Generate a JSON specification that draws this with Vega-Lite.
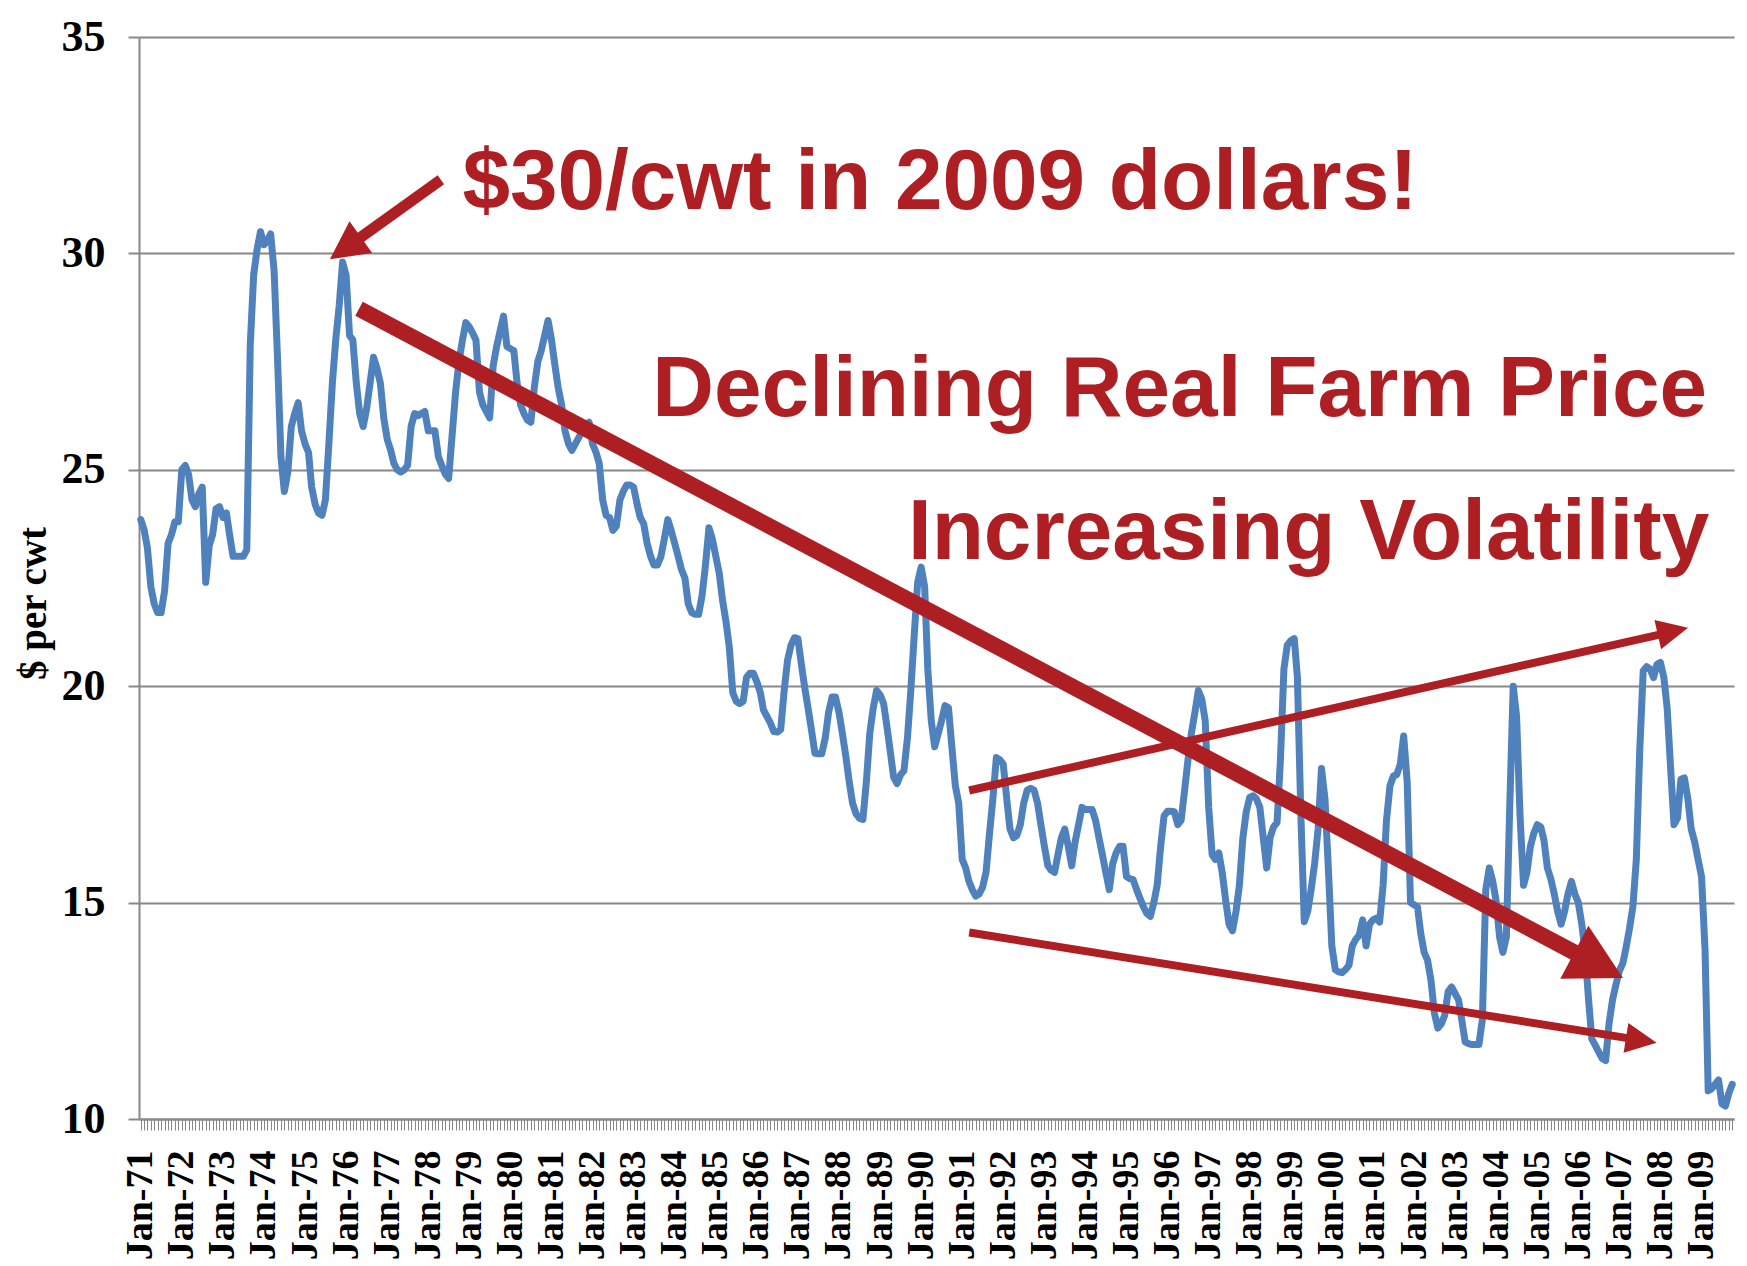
{
  "$schema": "https://vega.github.io/schema/vega-lite/v6.json",
  "width": 1595,
  "height": 1082,
  "autosize": {"type": "none"},
  "padding": {"left": 139, "top": 37, "right": 13, "bottom": 147},
  "background": "white",
  "config": {"view": {"stroke": null}},
  "datasets": {
    "milk": [
      {"date":"1971-01-01","price":23.85},{"date":"1971-02-01","price":23.6},{"date":"1971-03-01","price":23.2},{"date":"1971-04-01","price":22.3},{"date":"1971-05-01","price":21.9},{"date":"1971-06-01","price":21.7},{"date":"1971-07-01","price":21.7},{"date":"1971-08-01","price":22.2},{"date":"1971-09-01","price":23.3},{"date":"1971-10-01","price":23.5},{"date":"1971-11-01","price":23.8},{"date":"1971-12-01","price":23.8},
      {"date":"1972-01-01","price":25.0},{"date":"1972-02-01","price":25.1},{"date":"1972-03-01","price":24.9},{"date":"1972-04-01","price":24.3},{"date":"1972-05-01","price":24.15},{"date":"1972-06-01","price":24.45},{"date":"1972-07-01","price":24.6},{"date":"1972-08-01","price":22.4},{"date":"1972-09-01","price":23.25},{"date":"1972-10-01","price":23.5},{"date":"1972-11-01","price":24.1},{"date":"1972-12-01","price":24.15},
      {"date":"1973-01-01","price":23.9},{"date":"1973-02-01","price":24.0},{"date":"1973-03-01","price":23.5},{"date":"1973-04-01","price":23.0},{"date":"1973-05-01","price":23.0},{"date":"1973-06-01","price":23.0},{"date":"1973-07-01","price":23.0},{"date":"1973-08-01","price":23.15},{"date":"1973-09-01","price":27.9},{"date":"1973-10-01","price":29.5},{"date":"1973-11-01","price":30.1},{"date":"1973-12-01","price":30.5},
      {"date":"1974-01-01","price":30.2},{"date":"1974-02-01","price":30.3},{"date":"1974-03-01","price":30.45},{"date":"1974-04-01","price":29.6},{"date":"1974-05-01","price":27.6},{"date":"1974-06-01","price":25.3},{"date":"1974-07-01","price":24.5},{"date":"1974-08-01","price":24.95},{"date":"1974-09-01","price":26.0},{"date":"1974-10-01","price":26.3},{"date":"1974-11-01","price":26.55},{"date":"1974-12-01","price":25.9},
      {"date":"1975-01-01","price":25.6},{"date":"1975-02-01","price":25.4},{"date":"1975-03-01","price":24.6},{"date":"1975-04-01","price":24.2},{"date":"1975-05-01","price":24.0},{"date":"1975-06-01","price":23.95},{"date":"1975-07-01","price":24.3},{"date":"1975-08-01","price":25.6},{"date":"1975-09-01","price":27.0},{"date":"1975-10-01","price":28.0},{"date":"1975-11-01","price":28.8},{"date":"1975-12-01","price":29.8},
      {"date":"1976-01-01","price":29.5},{"date":"1976-02-01","price":28.1},{"date":"1976-03-01","price":28.0},{"date":"1976-04-01","price":27.0},{"date":"1976-05-01","price":26.3},{"date":"1976-06-01","price":26.0},{"date":"1976-07-01","price":26.4},{"date":"1976-08-01","price":27.0},{"date":"1976-09-01","price":27.6},{"date":"1976-10-01","price":27.35},{"date":"1976-11-01","price":27.0},{"date":"1976-12-01","price":26.2},
      {"date":"1977-01-01","price":25.7},{"date":"1977-02-01","price":25.45},{"date":"1977-03-01","price":25.15},{"date":"1977-04-01","price":25.0},{"date":"1977-05-01","price":24.95},{"date":"1977-06-01","price":25.0},{"date":"1977-07-01","price":25.1},{"date":"1977-08-01","price":26.0},{"date":"1977-09-01","price":26.3},{"date":"1977-10-01","price":26.25},{"date":"1977-11-01","price":26.3},{"date":"1977-12-01","price":26.35},
      {"date":"1978-01-01","price":25.9},{"date":"1978-02-01","price":25.9},{"date":"1978-03-01","price":25.9},{"date":"1978-04-01","price":25.3},{"date":"1978-05-01","price":25.1},{"date":"1978-06-01","price":24.9},{"date":"1978-07-01","price":24.8},{"date":"1978-08-01","price":25.8},{"date":"1978-09-01","price":26.8},{"date":"1978-10-01","price":27.5},{"date":"1978-11-01","price":28.0},{"date":"1978-12-01","price":28.4},
      {"date":"1979-01-01","price":28.3},{"date":"1979-02-01","price":28.15},{"date":"1979-03-01","price":28.0},{"date":"1979-04-01","price":26.8},{"date":"1979-05-01","price":26.5},{"date":"1979-06-01","price":26.35},{"date":"1979-07-01","price":26.2},{"date":"1979-08-01","price":27.4},{"date":"1979-09-01","price":27.85},{"date":"1979-10-01","price":28.2},{"date":"1979-11-01","price":28.55},{"date":"1979-12-01","price":27.85},
      {"date":"1980-01-01","price":27.8},{"date":"1980-02-01","price":27.75},{"date":"1980-03-01","price":27.0},{"date":"1980-04-01","price":26.5},{"date":"1980-05-01","price":26.3},{"date":"1980-06-01","price":26.15},{"date":"1980-07-01","price":26.1},{"date":"1980-08-01","price":26.9},{"date":"1980-09-01","price":27.5},{"date":"1980-10-01","price":27.75},{"date":"1980-11-01","price":28.1},{"date":"1980-12-01","price":28.45},
      {"date":"1981-01-01","price":28.0},{"date":"1981-02-01","price":27.4},{"date":"1981-03-01","price":26.9},{"date":"1981-04-01","price":26.5},{"date":"1981-05-01","price":25.9},{"date":"1981-06-01","price":25.6},{"date":"1981-07-01","price":25.45},{"date":"1981-08-01","price":25.6},{"date":"1981-09-01","price":25.75},{"date":"1981-10-01","price":25.9},{"date":"1981-11-01","price":26.0},{"date":"1981-12-01","price":26.1},
      {"date":"1982-01-01","price":25.6},{"date":"1982-02-01","price":25.4},{"date":"1982-03-01","price":25.15},{"date":"1982-04-01","price":24.3},{"date":"1982-05-01","price":23.95},{"date":"1982-06-01","price":23.9},{"date":"1982-07-01","price":23.6},{"date":"1982-08-01","price":23.7},{"date":"1982-09-01","price":24.3},{"date":"1982-10-01","price":24.5},{"date":"1982-11-01","price":24.65},{"date":"1982-12-01","price":24.65},
      {"date":"1983-01-01","price":24.6},{"date":"1983-02-01","price":24.2},{"date":"1983-03-01","price":23.9},{"date":"1983-04-01","price":23.75},{"date":"1983-05-01","price":23.3},{"date":"1983-06-01","price":23.0},{"date":"1983-07-01","price":22.8},{"date":"1983-08-01","price":22.8},{"date":"1983-09-01","price":23.0},{"date":"1983-10-01","price":23.4},{"date":"1983-11-01","price":23.85},{"date":"1983-12-01","price":23.6},
      {"date":"1984-01-01","price":23.3},{"date":"1984-02-01","price":23.0},{"date":"1984-03-01","price":22.7},{"date":"1984-04-01","price":22.5},{"date":"1984-05-01","price":21.9},{"date":"1984-06-01","price":21.7},{"date":"1984-07-01","price":21.66},{"date":"1984-08-01","price":21.66},{"date":"1984-09-01","price":22.1},{"date":"1984-10-01","price":22.8},{"date":"1984-11-01","price":23.66},{"date":"1984-12-01","price":23.4},
      {"date":"1985-01-01","price":23.0},{"date":"1985-02-01","price":22.6},{"date":"1985-03-01","price":22.0},{"date":"1985-04-01","price":21.5},{"date":"1985-05-01","price":20.9},{"date":"1985-06-01","price":19.85},{"date":"1985-07-01","price":19.65},{"date":"1985-08-01","price":19.6},{"date":"1985-09-01","price":19.65},{"date":"1985-10-01","price":20.2},{"date":"1985-11-01","price":20.3},{"date":"1985-12-01","price":20.3},
      {"date":"1986-01-01","price":20.1},{"date":"1986-02-01","price":19.85},{"date":"1986-03-01","price":19.45},{"date":"1986-04-01","price":19.3},{"date":"1986-05-01","price":19.15},{"date":"1986-06-01","price":18.95},{"date":"1986-07-01","price":18.94},{"date":"1986-08-01","price":19.0},{"date":"1986-09-01","price":19.9},{"date":"1986-10-01","price":20.6},{"date":"1986-11-01","price":20.95},{"date":"1986-12-01","price":21.12},
      {"date":"1987-01-01","price":21.1},{"date":"1987-02-01","price":20.5},{"date":"1987-03-01","price":20.0},{"date":"1987-04-01","price":19.5},{"date":"1987-05-01","price":19.0},{"date":"1987-06-01","price":18.45},{"date":"1987-07-01","price":18.44},{"date":"1987-08-01","price":18.44},{"date":"1987-09-01","price":18.8},{"date":"1987-10-01","price":19.4},{"date":"1987-11-01","price":19.75},{"date":"1987-12-01","price":19.75},
      {"date":"1988-01-01","price":19.4},{"date":"1988-02-01","price":18.9},{"date":"1988-03-01","price":18.4},{"date":"1988-04-01","price":17.8},{"date":"1988-05-01","price":17.3},{"date":"1988-06-01","price":17.05},{"date":"1988-07-01","price":16.95},{"date":"1988-08-01","price":16.92},{"date":"1988-09-01","price":17.8},{"date":"1988-10-01","price":18.9},{"date":"1988-11-01","price":19.5},{"date":"1988-12-01","price":19.9},
      {"date":"1989-01-01","price":19.8},{"date":"1989-02-01","price":19.6},{"date":"1989-03-01","price":19.1},{"date":"1989-04-01","price":18.5},{"date":"1989-05-01","price":17.9},{"date":"1989-06-01","price":17.75},{"date":"1989-07-01","price":17.95},{"date":"1989-08-01","price":18.05},{"date":"1989-09-01","price":18.8},{"date":"1989-10-01","price":19.9},{"date":"1989-11-01","price":21.2},{"date":"1989-12-01","price":22.4},
      {"date":"1990-01-01","price":22.75},{"date":"1990-02-01","price":22.3},{"date":"1990-03-01","price":20.4},{"date":"1990-04-01","price":19.2},{"date":"1990-05-01","price":18.6},{"date":"1990-06-01","price":18.9},{"date":"1990-07-01","price":19.2},{"date":"1990-08-01","price":19.55},{"date":"1990-09-01","price":19.5},{"date":"1990-10-01","price":18.6},{"date":"1990-11-01","price":17.7},{"date":"1990-12-01","price":17.3},
      {"date":"1991-01-01","price":16.0},{"date":"1991-02-01","price":15.8},{"date":"1991-03-01","price":15.5},{"date":"1991-04-01","price":15.3},{"date":"1991-05-01","price":15.15},{"date":"1991-06-01","price":15.2},{"date":"1991-07-01","price":15.35},{"date":"1991-08-01","price":15.7},{"date":"1991-09-01","price":16.6},{"date":"1991-10-01","price":17.4},{"date":"1991-11-01","price":18.35},{"date":"1991-12-01","price":18.3},
      {"date":"1992-01-01","price":18.2},{"date":"1992-02-01","price":17.4},{"date":"1992-03-01","price":16.7},{"date":"1992-04-01","price":16.5},{"date":"1992-05-01","price":16.55},{"date":"1992-06-01","price":16.8},{"date":"1992-07-01","price":17.3},{"date":"1992-08-01","price":17.6},{"date":"1992-09-01","price":17.64},{"date":"1992-10-01","price":17.6},{"date":"1992-11-01","price":17.3},{"date":"1992-12-01","price":16.8},
      {"date":"1993-01-01","price":16.3},{"date":"1993-02-01","price":15.85},{"date":"1993-03-01","price":15.75},{"date":"1993-04-01","price":15.7},{"date":"1993-05-01","price":16.1},{"date":"1993-06-01","price":16.5},{"date":"1993-07-01","price":16.7},{"date":"1993-08-01","price":16.3},{"date":"1993-09-01","price":15.85},{"date":"1993-10-01","price":16.4},{"date":"1993-11-01","price":16.8},{"date":"1993-12-01","price":17.2},
      {"date":"1994-01-01","price":17.15},{"date":"1994-02-01","price":17.15},{"date":"1994-03-01","price":17.15},{"date":"1994-04-01","price":16.9},{"date":"1994-05-01","price":16.5},{"date":"1994-06-01","price":16.1},{"date":"1994-07-01","price":15.7},{"date":"1994-08-01","price":15.3},{"date":"1994-09-01","price":15.9},{"date":"1994-10-01","price":16.15},{"date":"1994-11-01","price":16.3},{"date":"1994-12-01","price":16.3},
      {"date":"1995-01-01","price":15.6},{"date":"1995-02-01","price":15.55},{"date":"1995-03-01","price":15.53},{"date":"1995-04-01","price":15.3},{"date":"1995-05-01","price":15.1},{"date":"1995-06-01","price":14.9},{"date":"1995-07-01","price":14.75},{"date":"1995-08-01","price":14.68},{"date":"1995-09-01","price":15.0},{"date":"1995-10-01","price":15.4},{"date":"1995-11-01","price":16.3},{"date":"1995-12-01","price":17.0},
      {"date":"1996-01-01","price":17.11},{"date":"1996-02-01","price":17.11},{"date":"1996-03-01","price":17.1},{"date":"1996-04-01","price":16.8},{"date":"1996-05-01","price":16.9},{"date":"1996-06-01","price":17.6},{"date":"1996-07-01","price":18.3},{"date":"1996-08-01","price":18.93},{"date":"1996-09-01","price":19.4},{"date":"1996-10-01","price":19.9},{"date":"1996-11-01","price":19.7},{"date":"1996-12-01","price":19.2},
      {"date":"1997-01-01","price":17.2},{"date":"1997-02-01","price":16.1},{"date":"1997-03-01","price":16.0},{"date":"1997-04-01","price":16.15},{"date":"1997-05-01","price":15.7},{"date":"1997-06-01","price":15.05},{"date":"1997-07-01","price":14.5},{"date":"1997-08-01","price":14.35},{"date":"1997-09-01","price":14.8},{"date":"1997-10-01","price":15.4},{"date":"1997-11-01","price":16.5},{"date":"1997-12-01","price":17.1},
      {"date":"1998-01-01","price":17.43},{"date":"1998-02-01","price":17.47},{"date":"1998-03-01","price":17.4},{"date":"1998-04-01","price":17.2},{"date":"1998-05-01","price":16.5},{"date":"1998-06-01","price":15.8},{"date":"1998-07-01","price":16.5},{"date":"1998-08-01","price":16.75},{"date":"1998-09-01","price":16.85},{"date":"1998-10-01","price":18.3},{"date":"1998-11-01","price":20.4},{"date":"1998-12-01","price":20.95},
      {"date":"1999-01-01","price":21.05},{"date":"1999-02-01","price":21.1},{"date":"1999-03-01","price":20.2},{"date":"1999-04-01","price":17.0},{"date":"1999-05-01","price":14.56},{"date":"1999-06-01","price":14.8},{"date":"1999-07-01","price":15.3},{"date":"1999-08-01","price":15.9},{"date":"1999-09-01","price":16.7},{"date":"1999-10-01","price":18.1},{"date":"1999-11-01","price":17.4},{"date":"1999-12-01","price":15.8},
      {"date":"2000-01-01","price":14.0},{"date":"2000-02-01","price":13.45},{"date":"2000-03-01","price":13.4},{"date":"2000-04-01","price":13.38},{"date":"2000-05-01","price":13.45},{"date":"2000-06-01","price":13.55},{"date":"2000-07-01","price":14.0},{"date":"2000-08-01","price":14.15},{"date":"2000-09-01","price":14.25},{"date":"2000-10-01","price":14.6},{"date":"2000-11-01","price":14.0},{"date":"2000-12-01","price":14.5},
      {"date":"2001-01-01","price":14.6},{"date":"2001-02-01","price":14.64},{"date":"2001-03-01","price":14.55},{"date":"2001-04-01","price":15.4},{"date":"2001-05-01","price":16.9},{"date":"2001-06-01","price":17.7},{"date":"2001-07-01","price":17.92},{"date":"2001-08-01","price":17.96},{"date":"2001-09-01","price":18.2},{"date":"2001-10-01","price":18.85},{"date":"2001-11-01","price":17.8},{"date":"2001-12-01","price":15.0},
      {"date":"2002-01-01","price":14.95},{"date":"2002-02-01","price":14.9},{"date":"2002-03-01","price":14.3},{"date":"2002-04-01","price":13.85},{"date":"2002-05-01","price":13.67},{"date":"2002-06-01","price":13.2},{"date":"2002-07-01","price":12.45},{"date":"2002-08-01","price":12.1},{"date":"2002-09-01","price":12.2},{"date":"2002-10-01","price":12.4},{"date":"2002-11-01","price":12.95},{"date":"2002-12-01","price":13.05},
      {"date":"2003-01-01","price":12.9},{"date":"2003-02-01","price":12.75},{"date":"2003-03-01","price":12.3},{"date":"2003-04-01","price":11.78},{"date":"2003-05-01","price":11.74},{"date":"2003-06-01","price":11.72},{"date":"2003-07-01","price":11.72},{"date":"2003-08-01","price":11.72},{"date":"2003-09-01","price":12.3},{"date":"2003-10-01","price":15.3},{"date":"2003-11-01","price":15.8},{"date":"2003-12-01","price":15.5},
      {"date":"2004-01-01","price":15.04},{"date":"2004-02-01","price":14.2},{"date":"2004-03-01","price":13.85},{"date":"2004-04-01","price":14.2},{"date":"2004-05-01","price":17.2},{"date":"2004-06-01","price":20.0},{"date":"2004-07-01","price":19.3},{"date":"2004-08-01","price":17.0},{"date":"2004-09-01","price":15.4},{"date":"2004-10-01","price":15.7},{"date":"2004-11-01","price":16.3},{"date":"2004-12-01","price":16.6},
      {"date":"2005-01-01","price":16.8},{"date":"2005-02-01","price":16.75},{"date":"2005-03-01","price":16.45},{"date":"2005-04-01","price":15.8},{"date":"2005-05-01","price":15.55},{"date":"2005-06-01","price":15.2},{"date":"2005-07-01","price":14.8},{"date":"2005-08-01","price":14.5},{"date":"2005-09-01","price":14.8},{"date":"2005-10-01","price":15.2},{"date":"2005-11-01","price":15.49},{"date":"2005-12-01","price":15.2},
      {"date":"2006-01-01","price":15.0},{"date":"2006-02-01","price":14.5},{"date":"2006-03-01","price":13.9},{"date":"2006-04-01","price":12.8},{"date":"2006-05-01","price":11.85},{"date":"2006-06-01","price":11.7},{"date":"2006-07-01","price":11.55},{"date":"2006-08-01","price":11.4},{"date":"2006-09-01","price":11.35},{"date":"2006-10-01","price":12.2},{"date":"2006-11-01","price":12.75},{"date":"2006-12-01","price":13.1},
      {"date":"2007-01-01","price":13.42},{"date":"2007-02-01","price":13.6},{"date":"2007-03-01","price":13.95},{"date":"2007-04-01","price":14.4},{"date":"2007-05-01","price":14.9},{"date":"2007-06-01","price":16.0},{"date":"2007-07-01","price":18.5},{"date":"2007-08-01","price":20.35},{"date":"2007-09-01","price":20.45},{"date":"2007-10-01","price":20.4},{"date":"2007-11-01","price":20.2},{"date":"2007-12-01","price":20.5},
      {"date":"2008-01-01","price":20.55},{"date":"2008-02-01","price":20.2},{"date":"2008-03-01","price":19.5},{"date":"2008-04-01","price":18.1},{"date":"2008-05-01","price":16.8},{"date":"2008-06-01","price":16.95},{"date":"2008-07-01","price":17.85},{"date":"2008-08-01","price":17.88},{"date":"2008-09-01","price":17.4},{"date":"2008-10-01","price":16.7},{"date":"2008-11-01","price":16.4},{"date":"2008-12-01","price":16.0},
      {"date":"2009-01-01","price":15.6},{"date":"2009-02-01","price":13.9},{"date":"2009-03-01","price":10.65},{"date":"2009-04-01","price":10.7},{"date":"2009-05-01","price":10.8},{"date":"2009-06-01","price":10.9},{"date":"2009-07-01","price":10.35},{"date":"2009-08-01","price":10.3},{"date":"2009-09-01","price":10.6},{"date":"2009-10-01","price":10.8}
    ]
  },
  "encoding": {
    "x": {
      "field": "date", "type": "temporal",
      "scale": {"type": "utc", "domain": [{"year": 1970, "month": 12, "date": 16, "hours": 12, "utc": true}, {"year": 2009, "month": 10, "date": 16, "hours": 12, "utc": true}], "nice": false},
      "axis": {
        "title": null, "grid": false,
        "tickCount": {"interval": "month", "step": 1},
        "tickSize": 11, "tickWidth": 1, "tickColor": "#888888",
        "domainColor": "#888888", "domainWidth": 2,
        "labelAngle": 270, "labelPadding": 20,
        "labelFont": "Liberation Serif", "labelFontSize": 38, "labelFontWeight": "bold", "labelColor": "#000000",
        "labelOverlap": false, "labelFlush": false, "labelBound": false,
        "labelExpr": "utcmonth(datum.value) == 0 ? utcFormat(datum.value, '%b-%y') : ''"
      }
    },
    "y": {
      "field": "price", "type": "quantitative",
      "scale": {"domain": [10, 35], "nice": false, "zero": false},
      "axis": {
        "title": "$ per cwt", "titleFont": "Liberation Serif", "titleFontSize": 39, "titleFontWeight": "bold", "titleColor": "#000000",
        "titleAngle": 270, "titleX": -106, "titleY": 566, "titleAlign": "center", "titleBaseline": "middle",
        "values": [10, 15, 20, 25, 30, 35],
        "grid": true, "gridColor": "#888888", "gridWidth": 2,
        "tickSize": 11, "tickWidth": 2, "tickColor": "#888888",
        "domainColor": "#888888", "domainWidth": 2,
        "labelFont": "Liberation Serif", "labelFontSize": 44, "labelFontWeight": "bold", "labelColor": "#000000",
        "labelPadding": 23
      }
    }
  },
  "layer": [
    {
      "data": {"name": "milk"},
      "mark": {"type": "line", "color": "#4F81BD", "strokeWidth": 7, "strokeJoin": "round", "strokeCap": "round"}
    },
    {
      "data": {"values": [{"date": "1976-04-25", "price": 28.72}, {"date": "2006-06-11", "price": 13.58}]},
      "mark": {"type": "line", "color": "#AE1F24", "strokeWidth": 16, "strokeCap": "butt"}
    },
    {
      "data": {"values": [{"date": "2006-07-01", "price": 13.556}]},
      "mark": {"type": "point", "shape": "M0.917,0L-0.917,-1L-0.917,1Z", "size": 3600, "angle": 27.9, "filled": true, "color": "#AE1F24", "opacity": 1, "strokeWidth": 0}
    },
    {
      "data": {"values": [{"date": "1991-03-04", "price": 17.59}, {"date": "2008-03-12", "price": 21.24}]},
      "mark": {"type": "line", "color": "#AE1F24", "strokeWidth": 8, "strokeCap": "butt"}
    },
    {
      "data": {"values": [{"date": "2008-04-21", "price": 21.27}]},
      "mark": {"type": "point", "shape": "M1,0L-1,-0.97L-1,0.97Z", "size": 961, "angle": -12.7, "filled": true, "color": "#AE1F24", "opacity": 1, "strokeWidth": 0}
    },
    {
      "data": {"values": [{"date": "1991-03-04", "price": 14.31}, {"date": "2007-06-06", "price": 11.835}]},
      "mark": {"type": "line", "color": "#AE1F24", "strokeWidth": 8, "strokeCap": "butt"}
    },
    {
      "data": {"values": [{"date": "2007-07-15", "price": 11.818}]},
      "mark": {"type": "point", "shape": "M1,0L-1,-0.97L-1,0.97Z", "size": 961, "angle": 9.13, "filled": true, "color": "#AE1F24", "opacity": 1, "strokeWidth": 0}
    },
    {
      "data": {"values": [{"date": "1976-02-08", "price": 30.20}, {"date": "1978-04-23", "price": 31.70}]},
      "mark": {"type": "line", "color": "#AE1F24", "strokeWidth": 11, "strokeCap": "butt"}
    },
    {
      "data": {"values": [{"date": "1975-12-26", "price": 30.12}]},
      "mark": {"type": "point", "shape": "M0.974,0L-0.974,-1L-0.974,1Z", "size": 1521, "angle": 144.5, "filled": true, "color": "#AE1F24", "opacity": 1, "strokeWidth": 0}
    },
    {
      "data": {"values": [
        {"date": "1978-11-01", "price": 31.03, "label": "$30/cwt in 2009 dollars!"},
        {"date": "1983-06-16", "price": 26.24, "label": "Declining Real Farm Price"},
        {"date": "1989-09-05", "price": 22.94, "label": "Increasing Volatility"}
      ]},
      "mark": {"type": "text", "font": "Liberation Sans", "fontSize": 85.5, "fontWeight": "bold", "color": "#AE1F24", "align": "left", "baseline": "alphabetic"},
      "encoding": {"text": {"field": "label", "type": "nominal"}}
    }
  ]
}
